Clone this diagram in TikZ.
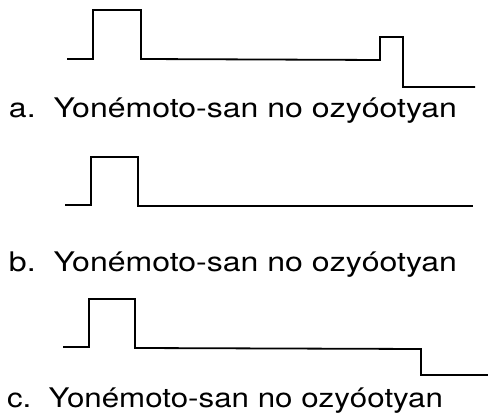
\documentclass[tikz,border=0pt]{standalone}
\usepackage{fontspec}
\setmainfont{TeX Gyre Heros}
\usepackage{graphicx}
\tikzset{
  wave/.style={line width=1.8pt, line join=miter, black},
  lbl/.style={anchor=base west, inner sep=0pt, outer sep=0pt, font=\fontsize{27}{32}\selectfont}
}
\begin{document}
\begin{tikzpicture}[x=1pt,y=-1pt]
\useasboundingbox (0,0) rectangle (488,419);
% a
\draw[wave] (67,59) -- (93,59) -- (93,10) -- (141,10) -- (141,59) -- (380,60) -- (380,37) -- (403,37) -- (403,87) -- (475,87);
\node[lbl] (ta) at (9,118) {\resizebox{448pt}{\height}{a.\ \ Yonémoto-san no ozyóotyan}};
% b
\draw[wave] (65,205) -- (91,205) -- (91,157) -- (138,157) -- (138,206) -- (473,206);
\node[lbl] (tb) at (9,272) {\resizebox{448pt}{\height}{b.\ \ Yonémoto-san no ozyóotyan}};
% c
\draw[wave] (63,347) -- (89,347) -- (89,299) -- (135,299) -- (135,348) -- (421,349) -- (421,375) -- (488,375);
\node[lbl] (tc) at (7,408) {\resizebox{436pt}{\height}{c.\ \ Yonémoto-san no ozyóotyan}};
\end{tikzpicture}
\end{document}
